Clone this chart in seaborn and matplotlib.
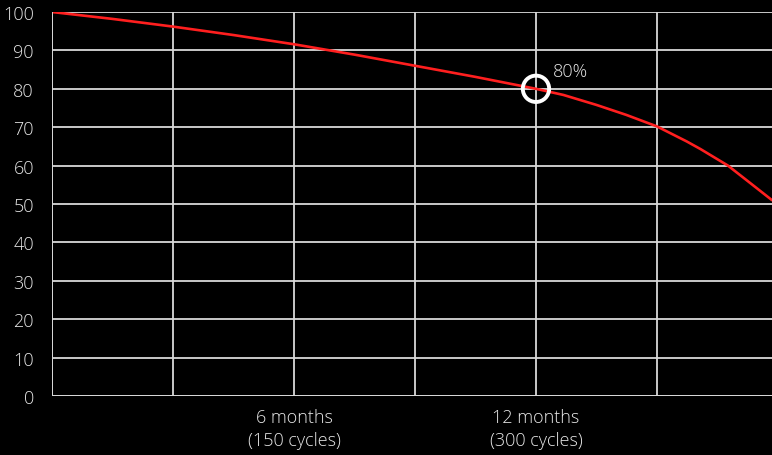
import numpy as np
import pandas as pd
import matplotlib
matplotlib.use("Agg")
import matplotlib.pyplot as plt
import seaborn as sns

# capacity retention
cycles = [0, 37.5, 75, 112.5, 150, 187.5, 225, 262.5, 300, 317, 337.5, 356, 375, 393.4, 402, 419, 434.8, 446.3]
capacity = [100, 98.2, 96.2, 94.0, 91.6, 88.9, 86.0, 83.1, 80.0, 78.4, 75.8, 73.2, 70.2, 66.3, 64.3, 60.0, 54.8, 51.0]

marker_x = 300
marker_y = 80
marker_label = "80%"

grid_x = [0, 75, 150, 225, 300, 375]
tick_labels = ["", "", "6 months\n(150 cycles)", "", "12 months\n(300 cycles)", ""]
y_ticks = list(range(0, 101, 10))

df = pd.DataFrame({"cycles": cycles, "capacity": capacity})

sns.set_style("dark")
plt.rcParams["font.family"] = ["Open Sans", "DejaVu Sans"]

fig = plt.figure(figsize=(7.72, 4.56), dpi=100, facecolor="black")
ax = fig.add_axes([52 / 772, 1 - 397 / 456, 1 - 52 / 772, (397 - 13) / 456])
ax.set_facecolor("black")

sns.lineplot(data=df, x="cycles", y="capacity", ax=ax, color="#ff1f1f", linewidth=1.9)
ax.scatter([marker_x], [marker_y], s=360, facecolors="none", edgecolors="white", linewidths=2.8, zorder=5)
ax.text(marker_x + 10.5, marker_y + 4.6, marker_label, color="#e6e6e6", fontsize=13, fontweight="light",
        va="center", ha="left")

ax.set_xlim(0, 446.3)
ax.set_ylim(0, 100)
ax.set_xticks(grid_x)
ax.set_xticklabels(tick_labels, linespacing=1.35)
ax.set_yticks(y_ticks)
ax.grid(True, color="#d9d9d9", linewidth=1.3)
ax.tick_params(axis="both", length=0, colors="#e6e6e6", labelsize=13)
ax.tick_params(axis="x", pad=9)
ax.tick_params(axis="y", pad=13)
for lbl in ax.get_xticklabels() + ax.get_yticklabels():
    lbl.set_fontweight("light")
for s in ax.spines.values():
    s.set_visible(False)
ax.axvline(0, color="#d9d9d9", linewidth=1.3)
ax.axhline(0, color="#d9d9d9", linewidth=1.3)
ax.set_xlabel("")
ax.set_ylabel("")

fig.savefig("out.png", dpi=100, facecolor="black")
